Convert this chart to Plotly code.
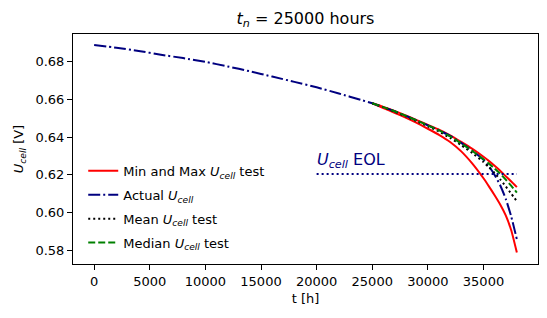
import plotly.graph_objects as go

# ---- data ----
t_actual = [0, 2000, 4000, 6000, 8000, 10000, 12000, 14000, 16000, 18000, 20000,
            22000, 24000, 25000, 26000, 27000, 28000, 29000, 30000, 31000, 32000,
            33000, 34000, 35000, 35500, 36000, 36500, 37000, 37500, 38000]
u_actual = [0.6890, 0.6875, 0.6858, 0.6838, 0.6820, 0.6800, 0.6776, 0.6750, 0.6722,
            0.6694, 0.6665, 0.6632, 0.6598, 0.6580, 0.6560, 0.6538, 0.6514, 0.6489,
            0.6463, 0.6437, 0.6407, 0.6370, 0.6328, 0.6280, 0.6245, 0.6200, 0.6145,
            0.6073, 0.5978, 0.5858]

t_test = [25000, 26000, 27000, 28000, 29000, 30000, 31000, 32000, 33000, 34000,
          35000, 35500, 36000, 36500, 37000, 37500, 38000]
u_min = [0.6580, 0.6555, 0.6530, 0.6504, 0.6476, 0.6445, 0.6413, 0.6375, 0.6325,
         0.6260, 0.6182, 0.6138, 0.6092, 0.6043, 0.5985, 0.5905, 0.5788]
u_max = [0.6580, 0.6561, 0.6540, 0.6516, 0.6491, 0.6465, 0.6440, 0.6410, 0.6375,
         0.6338, 0.6296, 0.6273, 0.6248, 0.6222, 0.6193, 0.6165, 0.6135]
u_mean = [0.6580, 0.6559, 0.6536, 0.6511, 0.6485, 0.6458, 0.6430, 0.6396, 0.6358,
          0.6316, 0.6268, 0.6240, 0.6210, 0.6176, 0.6139, 0.6100, 0.6060]
u_median = [0.6580, 0.6560, 0.6538, 0.6514, 0.6489, 0.6463, 0.6436, 0.6404, 0.6367,
            0.6327, 0.6283, 0.6259, 0.6234, 0.6207, 0.6175, 0.6142, 0.6106]

t_eol = [20000, 38000]
u_eol = [0.6205, 0.6205]

x_ticks = [0, 5000, 10000, 15000, 20000, 25000, 30000, 35000]
y_ticks = [0.58, 0.60, 0.62, 0.64, 0.66, 0.68]

UC = "<i>U</i><sub><i>cell</i></sub>"
FONT = "DejaVu Sans"
SM = 0.5

fig = go.Figure()
fig.add_trace(go.Scatter(x=t_test, y=u_min, mode="lines", name=f"Min and Max {UC} test",
                         line=dict(color="red", width=2, shape="spline", smoothing=SM),
                         legendrank=1, legendgroup="a"))
fig.add_trace(go.Scatter(x=t_test, y=u_max, mode="lines", showlegend=False, legendgroup="a",
                         line=dict(color="red", width=2, shape="spline", smoothing=SM)))
fig.add_trace(go.Scatter(x=t_actual, y=u_actual, mode="lines", name=f"Actual {UC}",
                         line=dict(color="#000080", width=2, dash="12px,3px,2px,3px",
                                   shape="spline", smoothing=SM),
                         legendrank=2, legendgroup="b"))
fig.add_trace(go.Scatter(x=t_test, y=u_mean, mode="lines", name=f"Mean {UC} test",
                         line=dict(color="black", width=2, dash="2px,3px",
                                   shape="spline", smoothing=SM),
                         legendrank=3, legendgroup="c"))
fig.add_trace(go.Scatter(x=t_test, y=u_median, mode="lines", name=f"Median {UC} test",
                         line=dict(color="green", width=2, dash="7px,3px",
                                   shape="spline", smoothing=SM),
                         legendrank=4, legendgroup="d"))
fig.add_trace(go.Scatter(x=t_eol, y=u_eol, mode="lines", showlegend=False,
                         line=dict(color="#000080", width=2, dash="2px,3px")))

fig.add_annotation(x=20000, y=0.6208, xref="x", yref="y", xanchor="left", yanchor="bottom",
                   xshift=-2, text=f"{UC} EOL", showarrow=False,
                   font=dict(family=FONT, size=16, color="#000080"))

axis_common = dict(showgrid=False, zeroline=False, showline=True, linecolor="black",
                   linewidth=1, mirror=True, ticks="outside", ticklen=5, tickwidth=1,
                   tickcolor="black", automargin=False,
                   tickfont=dict(family=FONT, size=13, color="black"))

fig.update_layout(
    width=547, height=318,
    margin=dict(l=73, r=9, t=34, b=54),
    paper_bgcolor="white", plot_bgcolor="white",
    font=dict(family=FONT, size=13, color="black"),
    title=dict(text="<i>t</i><sub><i>n</i></sub> = 25000 hours", x=0.5, xref="paper",
               xanchor="center", y=0.96, yanchor="top",
               font=dict(family=FONT, size=16, color="black")),
    xaxis=dict(range=[-1900, 39900], tickvals=x_ticks, ticktext=[str(v) for v in x_ticks],
               title=dict(text="t [h]", font=dict(family=FONT, size=13), standoff=6),
               **axis_common),
    yaxis=dict(range=[0.5727, 0.6948], tickvals=y_ticks,
               ticktext=[f"{v:.2f}" for v in y_ticks],
               title=dict(text=f"{UC} [V]", font=dict(family=FONT, size=13), standoff=8),
               **axis_common),
    legend=dict(x=0.022, y=0.47, xanchor="left", yanchor="top", bgcolor="rgba(0,0,0,0)",
                borderwidth=0, font=dict(family=FONT, size=13), tracegroupgap=4,
                itemwidth=30),
    showlegend=True,
    hovermode=False,
)

fig.write_html("out.html", config={"displayModeBar": False, "staticPlot": True},
               post_script="document.body.style.margin='0';document.body.style.overflow='hidden';")
